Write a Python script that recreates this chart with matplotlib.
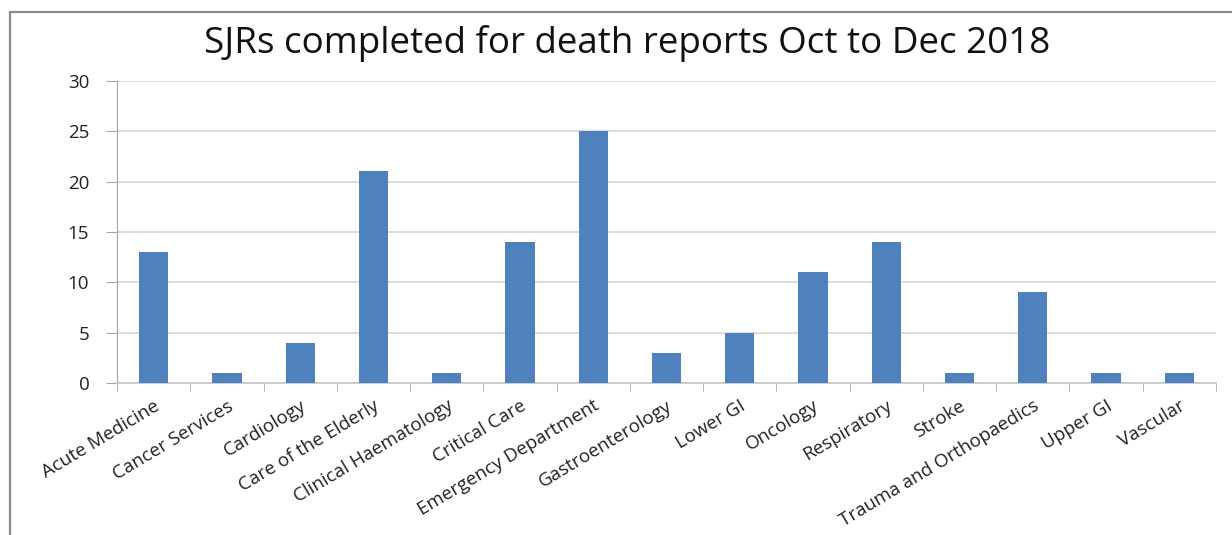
import matplotlib.pyplot as plt
import numpy as np
from matplotlib.patches import Rectangle

# SJR counts per specialty, Oct-Dec 2018
specialties = ['Acute Medicine', 'Cancer Services', 'Cardiology', 'Care of the Elderly',
               'Clinical Haematology', 'Critical Care', 'Emergency Department',
               'Gastroenterology', 'Lower GI', 'Oncology', 'Respiratory', 'Stroke',
               'Trauma and Orthopaedics', 'Upper GI', 'Vascular']
sjr_counts = [13, 1, 4, 21, 1, 14, 25, 3, 5, 11, 14, 1, 9, 1, 1]
y_ticks = [0, 5, 10, 15, 20, 25, 30]

plt.rcParams['font.family'] = ['Open Sans', 'DejaVu Sans']

fig = plt.figure(figsize=(12.32, 5.35), dpi=100)
ax = fig.add_axes([0.095, 0.284, 0.892, 0.565])

x = np.arange(len(specialties))
ax.bar(x, sjr_counts, width=0.4, color='#4F81BD', zorder=3)

ax.set_xlim(-0.5, len(specialties) - 0.5)
ax.set_ylim(0, 30)
ax.set_yticks(y_ticks)
ax.tick_params(axis='y', length=8, color='#a6a6a6', labelsize=13.5, pad=12, labelcolor='#222222')
ax.yaxis.grid(True, color='#d9d9d9', linewidth=1.3, zorder=0)

# category labels at centres, tick marks at boundaries
ax.set_xticks(x)
ax.set_xticklabels(specialties, rotation=31, ha='right', rotation_mode='anchor',
                   fontsize=13.5, color='#222222')
ax.tick_params(axis='x', length=0, pad=10)
ax.set_xticks(np.arange(-0.5, len(specialties)), minor=True)
ax.tick_params(axis='x', which='minor', length=6, color='#a6a6a6')

for side in ['top', 'right']:
    ax.spines[side].set_visible(False)
ax.spines['left'].set_color('#a6a6a6')
ax.spines['bottom'].set_color('#c8c8c8')
ax.spines['bottom'].set_linewidth(1.3)

fig.text(0.509, 0.918, 'SJRs completed for death reports Oct to Dec 2018',
         ha='center', va='center', fontsize=26.5, color='#111111')

# outer chart frame
fig.patches.append(Rectangle((10 / 1232, -0.1), 1.2, 1.1 - 12 / 535,
                             transform=fig.transFigure, fill=False,
                             edgecolor='#8c8c8c', linewidth=1.6))

fig.savefig('out.png', dpi=100)
